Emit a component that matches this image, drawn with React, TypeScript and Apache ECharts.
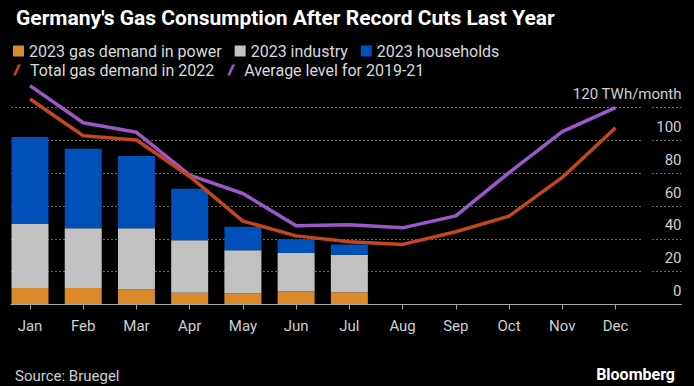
import React, { useEffect, useRef } from "react";
import * as echarts from "echarts";

const months = ["Jan", "Feb", "Mar", "Apr", "May", "Jun", "Jul", "Aug", "Sep", "Oct", "Nov", "Dec"];
const power2023 = [10.1, 10.1, 9.3, 7.1, 6.7, 8.1, 7.5];
const industry2023 = [38.9, 36.4, 37.2, 32.1, 26.4, 23.2, 22.8];
const households2023 = [53.0, 48.4, 43.9, 31.3, 14.2, 8.5, 6.3];
const total2022 = [125.2, 102.8, 100.2, 78.0, 50.8, 41.8, 38.2, 36.6, 44.3, 53.8, 77.4, 107.7];
const avg2019to21 = [133.3, 110.7, 104.9, 78.8, 67.6, 47.9, 48.6, 46.7, 54.0, 80.3, 105.3, 119.9];
const yTicks = [0, 20, 40, 60, 80, 100, 120];

const FONT = "Roboto";
const C_POWER = "#DA8A2B";
const C_IND = "#C2C2C2";
const C_HH = "#0050B9";
const C_RED = "#C4461F";
const C_PURPLE = "#9C58C9";

export default function App() {
  const ref = useRef<HTMLDivElement>(null);
  useEffect(() => {
    if (!ref.current) return;
    const chart = echarts.init(ref.current, null, { renderer: "svg" });
    const top = 107.5;
    const bottom = 386 - 304.5;
    const slash = "path://M0,11 L5,0 L7.8,0 L2.8,11 Z";
    const option: any = {
      animation: false,
      backgroundColor: "#000000",
      textStyle: { fontFamily: FONT },
      title: [
        {
          text: "Germany's Gas Consumption After Record Cuts Last Year",
          left: 11,
          top: 2,
          textStyle: { color: "#ffffff", fontSize: 21, fontWeight: "bold", fontFamily: FONT },
        },
        {
          text: "Source: Bruegel",
          left: 10,
          top: 363,
          textStyle: { color: "#cfcfcf", fontSize: 15, fontWeight: "normal", fontFamily: FONT },
        },
        {
          text: "Bloomberg",
          right: 14,
          top: 361,
          textStyle: { color: "#ffffff", fontSize: 16, fontWeight: "bold", fontFamily: FONT },
        },
      ],
      legend: [
        {
          left: 8,
          top: 38,
          itemWidth: 11,
          itemHeight: 11,
          itemGap: 13,
          icon: "rect",
          data: ["2023 gas demand in power", "2023 industry", "2023 households"],
          textStyle: { color: "#d9d9d9", fontSize: 16, fontFamily: FONT },
        },
        {
          left: 8,
          top: 57,
          itemWidth: 16,
          itemHeight: 11,
          itemGap: 13,
          data: [
            { name: "Total gas demand in 2022", icon: slash },
            { name: "Average level for 2019-21", icon: slash },
          ],
          textStyle: { color: "#d9d9d9", fontSize: 16, fontFamily: FONT },
        },
      ],
      grid: [
        { left: 30, right: 694 - 615.5, top, bottom, containLabel: false },
        { left: 11, right: 694 - 642, top, bottom, containLabel: false },
        { left: 652, right: 694 - 681.5, top, bottom, containLabel: false },
        { left: 11, right: 694 - 681.5, top, bottom, containLabel: false },
      ],
      xAxis: [
        {
          gridIndex: 0,
          type: "category",
          data: months,
          boundaryGap: false,
          axisLine: { show: false },
          axisTick: { show: true, length: 5, lineStyle: { color: "#a8a8a8", width: 1 } },
          axisLabel: { color: "#cfcfcf", fontSize: 15, margin: 14, fontFamily: FONT },
          splitLine: { show: false },
          z: 5,
        },
        { gridIndex: 1, type: "value", min: 0, max: 1, show: false },
        { gridIndex: 2, type: "value", min: 0, max: 1, show: false },
        {
          gridIndex: 3,
          type: "value",
          min: 0,
          max: 1,
          axisLine: { show: true, lineStyle: { color: "#a8a8a8", width: 1.2 } },
          axisTick: { show: false },
          axisLabel: { show: false },
          splitLine: { show: false },
          z: 4,
        },
      ],
      yAxis: [
        { gridIndex: 0, type: "value", min: 0, max: 120, interval: 20, show: false },
        {
          gridIndex: 1,
          type: "value",
          min: 0,
          max: 120,
          interval: 20,
          axisLine: { show: false },
          axisTick: { show: false },
          axisLabel: { show: false },
          splitLine: { show: true, lineStyle: { color: "#6a6a6a", type: [2, 2], width: 1 } },
        },
        {
          gridIndex: 2,
          type: "value",
          position: "right",
          min: 0,
          max: 120,
          interval: 20,
          axisLine: { show: false },
          axisTick: { show: false },
          splitLine: { show: true, lineStyle: { color: "#6a6a6a", type: [2, 2], width: 1 } },
          axisLabel: {
            inside: true,
            margin: 0,
            align: "right",
            verticalAlign: "bottom",
            padding: [0, 0, 6, 0],
            color: "#cfcfcf",
            fontSize: 15,
            fontFamily: FONT,
            formatter: (v: number) => (v === yTicks[yTicks.length - 1] ? v + " TWh/month" : String(v)),
          },
        },
        { gridIndex: 3, type: "value", min: 0, max: 120, show: false },
      ],
      series: [
        {
          name: "2023 gas demand in power",
          type: "bar",
          stack: "d",
          xAxisIndex: 0,
          yAxisIndex: 0,
          barWidth: 37,
          itemStyle: { color: C_POWER },
          data: power2023,
          z: 3,
        },
        {
          name: "2023 industry",
          type: "bar",
          stack: "d",
          xAxisIndex: 0,
          yAxisIndex: 0,
          barWidth: 37,
          itemStyle: { color: C_IND },
          data: industry2023,
          z: 3,
        },
        {
          name: "2023 households",
          type: "bar",
          stack: "d",
          xAxisIndex: 0,
          yAxisIndex: 0,
          barWidth: 37,
          itemStyle: { color: C_HH },
          data: households2023,
          z: 3,
        },
        {
          name: "Average level for 2019-21",
          type: "line",
          xAxisIndex: 0,
          yAxisIndex: 0,
          data: avg2019to21,
          symbol: "none",
          clip: false,
          lineStyle: { color: C_PURPLE, width: 3.5 },
          itemStyle: { color: C_PURPLE },
          z: 6,
        },
        {
          name: "Total gas demand in 2022",
          type: "line",
          xAxisIndex: 0,
          yAxisIndex: 0,
          data: total2022,
          symbol: "none",
          clip: false,
          lineStyle: { color: C_RED, width: 3.5 },
          itemStyle: { color: C_RED },
          z: 7,
        },
      ],
    };
    chart.setOption(option);
    return () => chart.dispose();
  }, []);
  return (
    <div style={{ position: "fixed", left: 0, top: 0, width: 694, height: 386, background: "#000" }}>
      <div ref={ref} style={{ width: 694, height: 386 }} />
    </div>
  );
}
